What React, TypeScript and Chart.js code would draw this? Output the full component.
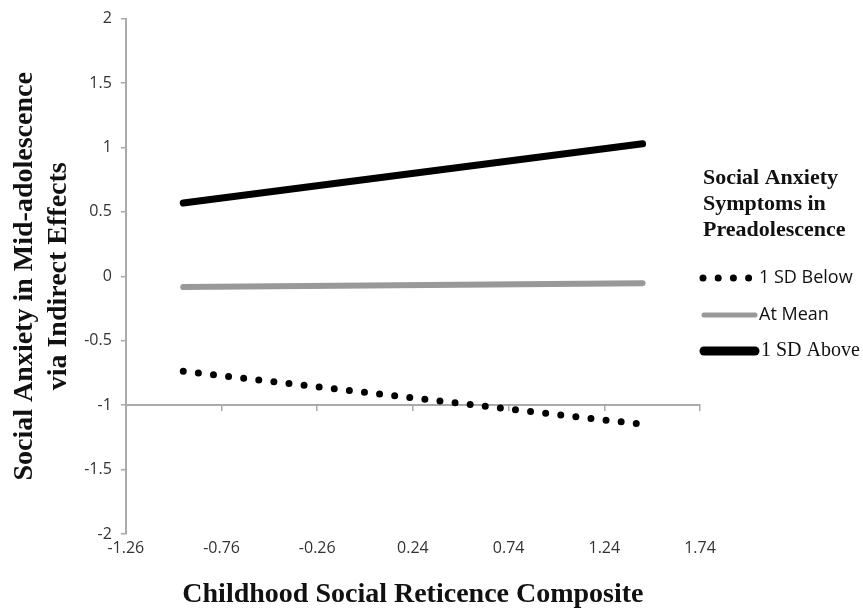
import React, { useEffect, useRef } from "react";
import { Chart, registerables } from "chart.js";

Chart.register(...registerables);

const xPoints = [-0.96, 1.44];
const belowValues = [-0.737, -1.149];
const meanValues = [-0.084, -0.053];
const aboveValues = [0.569, 1.028];
const xTickValues = [-1.26, -0.76, -0.26, 0.24, 0.74, 1.24, 1.74];
const seriesLabels = ["1 SD Below", "At Mean", "1 SD Above"];
const legendTitle = ["Social Anxiety", "Symptoms in", "Preadolescence"];
const yTitle = ["Social Anxiety in Mid-adolescence", "via Indirect Effects"];
const xTitle = "Childhood Social Reticence Composite";

const toPoints = (ys: number[]) => xPoints.map((x, i) => ({ x, y: ys[i] }));

const legendFonts = ['18px "Open Sans"', '18px "Open Sans"', '20px "Liberation Serif"'];
const legendSampleWidths = [9, 5, 9];

const legendPlugin = {
  id: "customLegend",
  afterDraw(chart: any) {
    const ctx = chart.ctx;
    const area = chart.chartArea;
    const x0 = area.right;
    ctx.save();
    ctx.fillStyle = "#111";
    ctx.font = 'bold 22px "Liberation Serif"';
    ctx.textBaseline = "middle";
    ctx.textAlign = "left";
    legendTitle.forEach((t, i) => ctx.fillText(t, x0 + 3, 178 + i * 26));
    const ys = [278, 315, 351];
    chart.data.datasets.forEach((ds: any, i: number) => {
      const y = ys[i];
      ctx.save();
      ctx.strokeStyle = ds.borderColor;
      ctx.lineWidth = i === 0 ? ds.borderWidth : legendSampleWidths[i];
      ctx.lineCap = "round";
      ctx.setLineDash(ds.borderDash || []);
      ctx.beginPath();
      if (i === 0) {
        ctx.moveTo(x0 + 3, y);
        ctx.lineTo(x0 + 52, y);
      } else {
        ctx.moveTo(x0 + 4, y);
        ctx.lineTo(x0 + 55, y);
      }
      ctx.stroke();
      ctx.restore();
      ctx.fillStyle = "#111";
      ctx.font = legendFonts[i];
      ctx.fillText(ds.label, x0 + (i === 2 ? 61 : 59), y);
    });
    ctx.restore();
  },
};

export default function App() {
  const ref = useRef<HTMLCanvasElement | null>(null);
  useEffect(() => {
    document.body.style.margin = "0";
    const canvas = ref.current!;
    const axisFixTicks = (scale: any) => {
      scale.ticks = xTickValues.map((v) => ({ value: v }));
    };
    const tickFont = { family: "Open Sans", size: 16 };
    const chart = new Chart(canvas, {
      type: "line",
      data: {
        datasets: [
          {
            label: seriesLabels[0],
            data: toPoints(belowValues),
            borderColor: "#000",
            borderWidth: 7,
            borderDash: [0, 15.2],
            borderCapStyle: "round",
            pointRadius: 0,
          },
          {
            label: seriesLabels[1],
            data: toPoints(meanValues),
            borderColor: "#999999",
            borderWidth: 6,
            borderCapStyle: "round",
            pointRadius: 0,
          },
          {
            label: seriesLabels[2],
            data: toPoints(aboveValues),
            borderColor: "#000",
            borderWidth: 7,
            borderCapStyle: "round",
            pointRadius: 0,
          },
        ] as any,
      },
      options: {
        animation: false,
        responsive: true,
        maintainAspectRatio: false,
        layout: { padding: { left: 6, right: 163, top: 8, bottom: 0 } },
        plugins: {
          legend: { display: false },
          tooltip: { enabled: false },
        },
        scales: {
          x: {
            type: "linear",
            min: -1.26,
            max: 1.74,
            afterBuildTicks: axisFixTicks,
            grid: { display: false, drawTicks: false },
            border: { display: false },
            ticks: {
              callback: (v: any) => Number(v).toFixed(2),
              font: tickFont,
              color: "#333",
              padding: 5,
              maxRotation: 0,
            },
            title: {
              display: true,
              text: xTitle,
              font: { family: "Liberation Serif", size: 28, weight: "bold", lineHeight: 1.1 },
              color: "#111",
              padding: { top: 16, bottom: 0 },
            },
          },
          x2: {
            type: "linear",
            axis: "x",
            position: { y: -1 } as any,
            min: -1.26,
            max: 1.74,
            afterBuildTicks: axisFixTicks,
            ticks: { display: false },
            grid: {
              display: true,
              drawOnChartArea: false,
              drawTicks: true,
              tickLength: 5,
              color: "#aaaaaa",
              lineWidth: 1.5,
            },
            border: { display: true, color: "#aaaaaa", width: 2 },
          },
          y: {
            type: "linear",
            min: -2,
            max: 2,
            ticks: {
              stepSize: 0.5,
              callback: (v: any) => String(Number(v)),
              font: tickFont,
              color: "#333",
              padding: 9,
            },
            grid: {
              display: true,
              drawOnChartArea: false,
              drawTicks: true,
              tickLength: 5,
              color: "#aaaaaa",
              lineWidth: 1.5,
            },
            border: { display: true, color: "#aaaaaa", width: 2 },
            title: {
              display: true,
              text: yTitle,
              font: { family: "Liberation Serif", size: 28, weight: "bold", lineHeight: 1.2 },
              color: "#111",
              padding: { top: 2, bottom: 0 },
            },
          },
        },
      },
      plugins: [legendPlugin],
    });
    return () => chart.destroy();
  }, []);
  return (
    <div style={{ position: "relative", width: "863px", height: "610px" }}>
      <canvas ref={ref} />
    </div>
  );
}
